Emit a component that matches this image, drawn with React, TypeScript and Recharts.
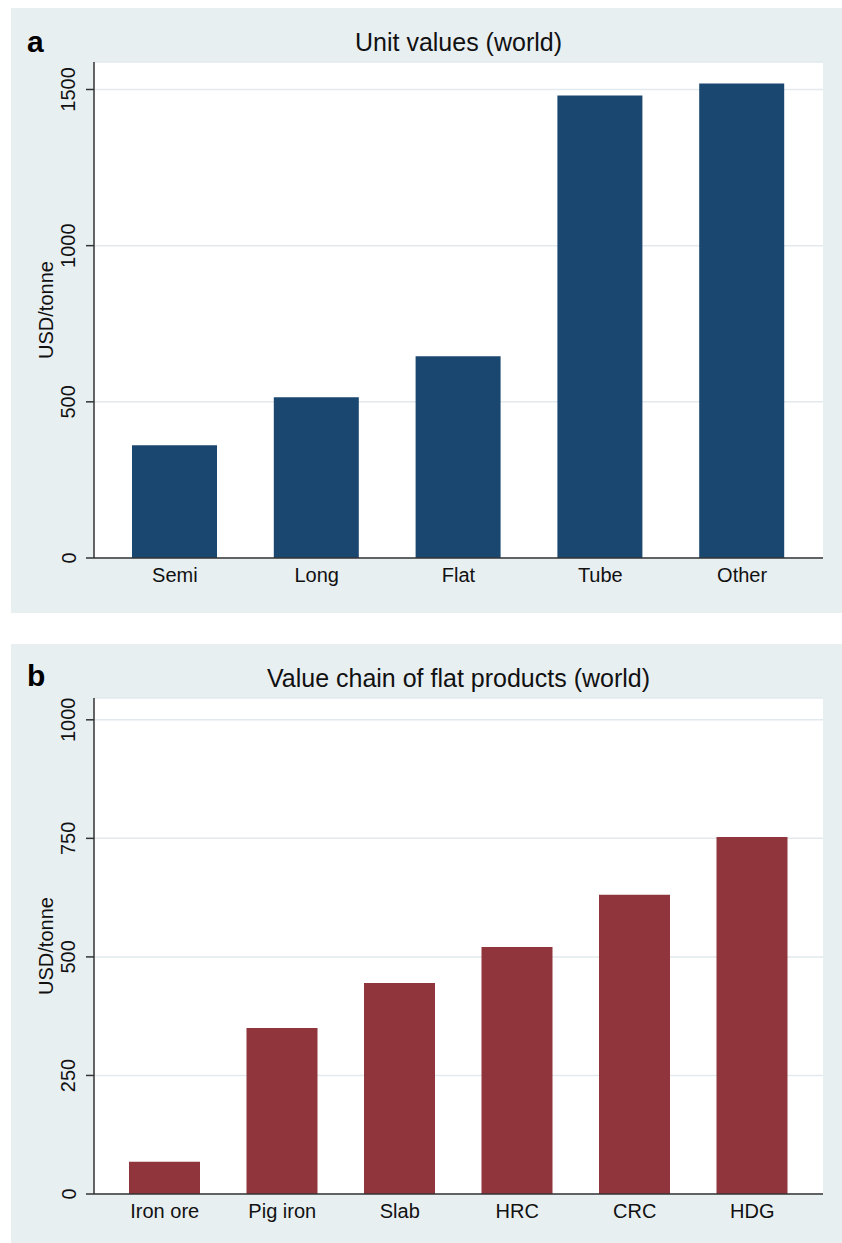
import React from "react";
import { Bar, BarChart, CartesianGrid, XAxis, YAxis } from "recharts";

const productCategories = ["Semi", "Long", "Flat", "Tube", "Other"];
const unitValues = [361, 515, 646, 1481, 1519];
const unitTicks = [0, 500, 1000, 1500];

const chainCategories = ["Iron ore", "Pig iron", "Slab", "HRC", "CRC", "HDG"];
const chainValues = [68, 350, 445, 521, 631, 753];
const chainTicks = [0, 250, 500, 750, 1000];

const FONT = "'Liberation Sans', Arial, Helvetica, sans-serif";
const PANEL_BG = "#e8eff1";
const AXIS = "#333";

const YTick = (props: any) => {
  const { y, payload } = props;
  const x = 64.5;
  return (
    <text
      x={x}
      y={y}
      transform={`rotate(-90 ${x} ${y})`}
      textAnchor="middle"
      fontSize={20}
      fontFamily={FONT}
      fill="#111"
    >
      {payload.value}
    </text>
  );
};

const XTick = (props: any) => {
  const { x, payload } = props;
  return (
    <text
      x={x}
      y={574}
      textAnchor="middle"
      fontSize={20}
      fontFamily={FONT}
      fill="#111"
    >
      {payload.value}
    </text>
  );
};

interface PanelProps {
  top: number;
  height: number;
  letter: string;
  title: string;
  categories: string[];
  values: number[];
  ticks: number[];
  yMax: number;
  color: string;
  barSize: number;
  pad: number;
}

function Panel({
  top,
  height,
  letter,
  title,
  categories,
  values,
  ticks,
  yMax,
  color,
  barSize,
  pad,
}: PanelProps) {
  const data = categories.map((name, i) => ({ name, value: values[i] }));
  const width = 831;
  // plot bottom sits at y=550 inside each panel
  const margin = { top: 54, right: 19, bottom: 0, left: 0 };

  return (
    <div
      style={{
        position: "absolute",
        left: 11,
        top,
        width,
        height,
        background: PANEL_BG,
      }}
    >
      <BarChart width={width} height={height} data={data} margin={margin}>
        <CartesianGrid
          vertical={false}
          stroke="#e2eaed"
          strokeWidth={1.5}
          fill="#ffffff"
        />
        <XAxis
          dataKey="name"
          height={height - 550}
          axisLine={{ stroke: AXIS, strokeWidth: 1.5 }}
          tickLine={false}
          tick={<XTick />}
          padding={{ left: pad, right: pad }}
          interval={0}
        />
        <YAxis
          width={83}
          type="number"
          domain={[0, yMax]}
          ticks={ticks}
          allowDataOverflow
          axisLine={{ stroke: AXIS, strokeWidth: 1.5 }}
          tickLine={{ stroke: AXIS, strokeWidth: 1.5 }}
          tickSize={8}
          tick={<YTick />}
          interval={0}
        />
        <Bar
          dataKey="value"
          fill={color}
          barSize={barSize}
          isAnimationActive={false}
        />
      </BarChart>
      <svg
        width={width}
        height={height}
        style={{ position: "absolute", left: 0, top: 0, pointerEvents: "none" }}
      >
        <text
          x={16}
          y={letter === "a" ? 44 : 42}
          fontSize={30}
          fontWeight="bold"
          fontFamily={FONT}
          fill="#000"
        >
          {letter}
        </text>
        <text
          x={447.5}
          y={43}
          textAnchor="middle"
          fontSize={25}
          fontFamily={FONT}
          fill="#111"
        >
          {title}
        </text>
        <text
          x={42}
          y={302}
          transform="rotate(-90 42 302)"
          textAnchor="middle"
          fontSize={20}
          fontFamily={FONT}
          fill="#111"
        >
          USD/tonne
        </text>
      </svg>
    </div>
  );
}

export default function App() {
  return (
    <div
      style={{
        position: "absolute",
        left: 0,
        top: 0,
        width: 842,
        height: 1243,
        background: "#ffffff",
        fontFamily: FONT,
      }}
    >
      <Panel
        top={8}
        height={605}
        letter="a"
        title="Unit values (world)"
        categories={productCategories}
        values={unitValues}
        ticks={unitTicks}
        yMax={1588}
        color="#1a476f"
        barSize={85}
        pad={10}
      />
      <Panel
        top={644}
        height={599}
        letter="b"
        title="Value chain of flat products (world)"
        categories={chainCategories}
        values={chainValues}
        ticks={chainTicks}
        yMax={1046}
        color="#90353b"
        barSize={71}
        pad={12}
      />
    </div>
  );
}
